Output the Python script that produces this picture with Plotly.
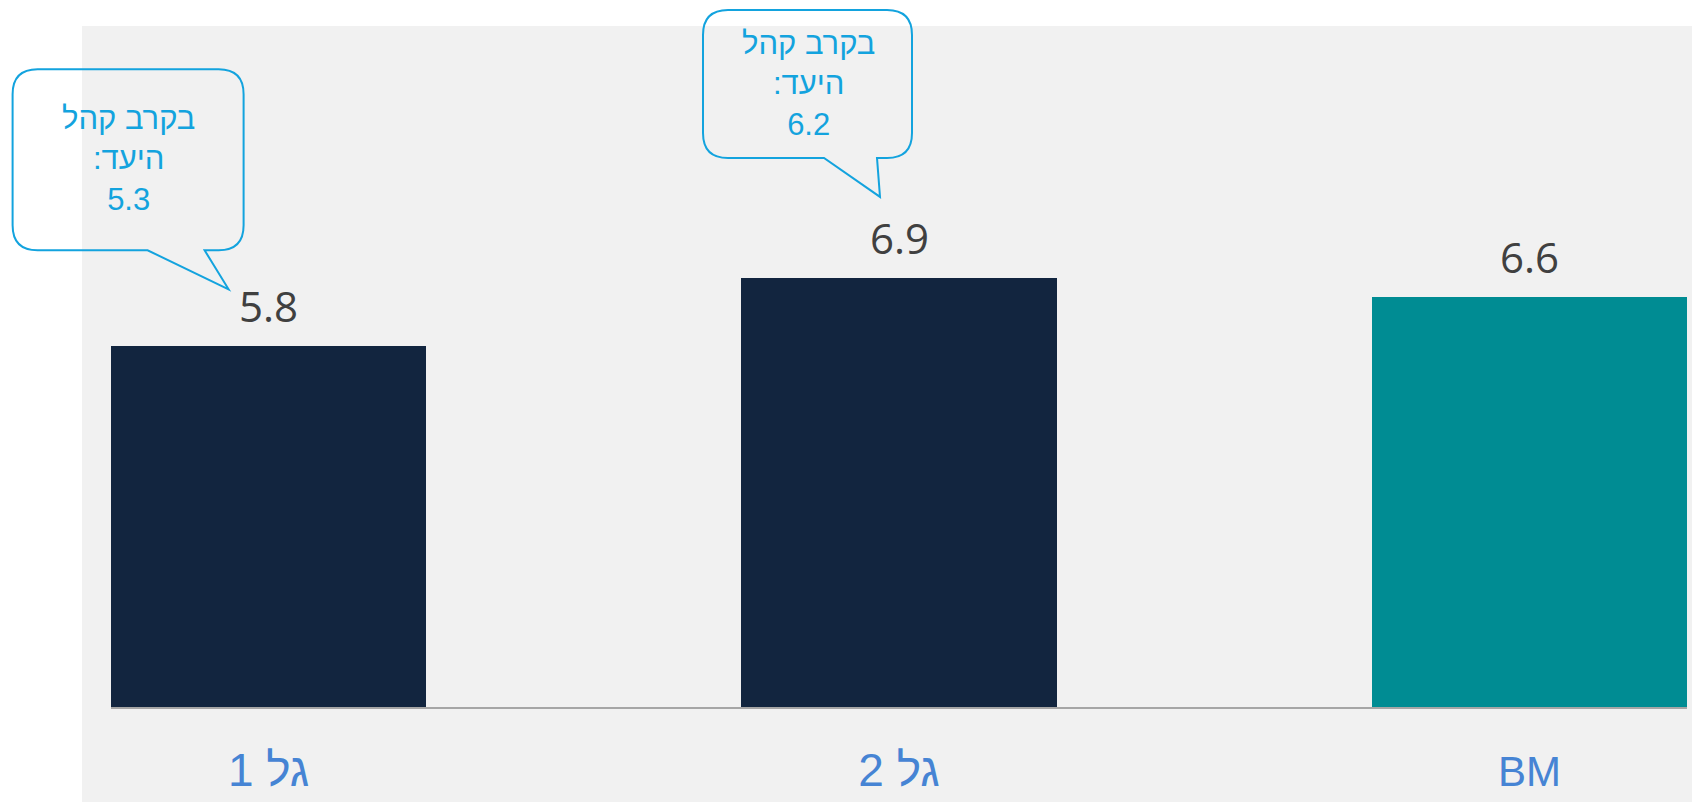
import plotly.graph_objects as go

# Survey score per wave, plus the benchmark
categories = ["גל 1", "גל 2", "BM"]
scores = [5.8, 6.9, 6.6]
# Score among the target audience (callouts on the two waves)
target_scores = [5.3, 6.2]
target_label = "בקרב קהל<br>היעד:\u200f"

NAVY = "#12253F"
TEAL = "#008C93"
CALLOUT = "#13A3DE"
LABEL_BLUE = "#4684D4"
BG = "#F1F1F1"

bar_colors = [NAVY, NAVY, TEAL]
x_pos = list(range(len(categories)))
X_RANGE = [-0.25, 2.25]
Y_RANGE = [0, 10.95]

# Tick texts: the benchmark label is set a little smaller
tick_text = [c if c != "BM" else "<span style='font-size:42px'>BM</span>" for c in categories]

fig = go.Figure()
fig.add_trace(go.Bar(
    x=x_pos,
    y=scores,
    width=0.5,
    marker=dict(color=bar_colors, line=dict(width=0)),
    hoverinfo="skip",
))

W, H = 1692, 802
ML, MR, MT, MB = 111, 5, 26, 95
plot_w = W - ML - MR
plot_h = H - MT - MB


def to_paper_x(v):
    return (v - X_RANGE[0]) / (X_RANGE[1] - X_RANGE[0])


def to_paper_y(v):
    return (v - Y_RANGE[0]) / (Y_RANGE[1] - Y_RANGE[0])


# Grey panel behind the chart, running past the plot area to the left and below
fig.add_shape(
    type="rect", xref="paper", yref="paper", layer="below",
    x0=(82 - ML) / plot_w, x1=(W - ML) / plot_w,
    y0=-MB / plot_h, y1=1,
    line=dict(width=0), fillcolor=BG,
)

# Value labels above each bar
for i, v in enumerate(scores):
    fig.add_annotation(
        x=i, y=v, xref="x", yref="y", text=f"{v:.1f}", showarrow=False,
        yanchor="bottom", xanchor="center", yshift=10,
        font=dict(family="Open Sans", size=42, color="#404040"),
    )


def bubble_path(left, right, bottom, top, r, base_l, base_r, tip):
    """Rounded speech-bubble outline in pixel offsets (y up) from the anchor."""
    tx, ty = tip
    pts = [
        f"M{left + r},{top}",
        f"L{right - r},{top}",
        f"Q{right},{top} {right},{top - r}",
        f"L{right},{bottom + r}",
        f"Q{right},{bottom} {right - r},{bottom}",
        f"L{base_r},{bottom}",
        f"L{tx},{ty}",
        f"L{base_l},{bottom}",
        f"L{left + r},{bottom}",
        f"Q{left},{bottom} {left},{bottom + r}",
        f"L{left},{top - r}",
        f"Q{left},{top} {left + r},{top}",
        "Z",
    ]
    return " ".join(pts)


# Bubble geometry (pixels relative to the top-centre of the bar it points at)
bubbles = [
    dict(left=-256, right=-25, bottom=96, top=277, base_l=-121, base_r=-64,
         tip=(-40, 57), text_dx=-140, text_dy=187),
    dict(left=-196, right=13, bottom=120, top=268, base_l=-75, base_r=-22,
         tip=(-19, 81), text_dx=-91, text_dy=194),
]

for i, (t, b) in enumerate(zip(target_scores, bubbles)):
    # paper-referenced so the bubble may extend beyond the plot area
    fig.add_shape(
        type="path", xref="paper", yref="paper",
        xsizemode="pixel", ysizemode="pixel",
        xanchor=to_paper_x(i), yanchor=to_paper_y(scores[i]),
        path=bubble_path(b["left"], b["right"], b["bottom"], b["top"], 25,
                         b["base_l"], b["base_r"], b["tip"]),
        line=dict(color=CALLOUT, width=2),
        fillcolor="rgba(0,0,0,0)",
        layer="above",
    )
    fig.add_annotation(
        x=i, y=scores[i], xref="x", yref="y",
        text=f"{target_label}<br>{t:.1f}", showarrow=False,
        xanchor="center", yanchor="middle", align="center",
        xshift=b["text_dx"], yshift=b["text_dy"],
        font=dict(family="Liberation Sans, Arial", size=31, color=CALLOUT),
    )

fig.update_layout(
    width=W, height=H,
    margin=dict(l=ML, r=MR, t=MT, b=MB, pad=0),
    paper_bgcolor="white",
    plot_bgcolor=BG,
    showlegend=False,
    bargap=0,
    xaxis=dict(
        range=X_RANGE,
        tickmode="array", tickvals=x_pos, ticktext=tick_text,
        showgrid=False, zeroline=False,
        showline=True, linecolor="#A6A6A6", linewidth=2,
        ticks="", ticklabelstandoff=22,
        tickfont=dict(family="Liberation Sans, Arial", size=46, color=LABEL_BLUE),
        fixedrange=True,
    ),
    yaxis=dict(
        range=Y_RANGE, visible=False, showgrid=False, zeroline=False,
        fixedrange=True,
    ),
)

fig.write_html("out.html", config={"displayModeBar": False})
